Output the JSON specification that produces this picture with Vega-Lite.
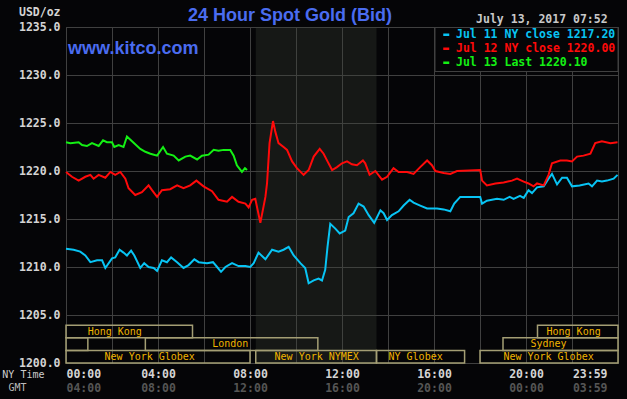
{
  "$schema": "https://vega.github.io/schema/vega-lite/v6.json",
  "width": 552,
  "height": 336,
  "autosize": "none",
  "padding": {"left": 66, "top": 27, "right": 9, "bottom": 36},
  "background": "#050507",
  "config": {
    "view": {"stroke": "#404040"},
    "axis": {"domain": false, "ticks": false, "gridColor": "#404040", "gridOpacity": 1, "gridWidth": 1, "labelFont": "DejaVu Sans Mono", "labelFontWeight": "bold", "labelFontSize": 11.5, "labelOverlap": false, "titleFont": "DejaVu Sans Mono"}
  },
  "title": {"text": "24 Hour Spot Gold (Bid)", "anchor": "start", "frame": "group", "dx": 122, "dy": 39, "font": "Liberation Sans", "fontSize": 18, "fontWeight": "bold", "color": "#4a6cf0", "offset": 6, "baseline": "alphabetic"},
  "datasets": {
    "pit": [{"session": "NYMEX pit", "start": 8.25, "end": 13.5}],
    "sessions": [
      {"name": "Hong Kong", "label": "Hong Kong", "lane": 2, "start": 0, "end": 5.5, "label_hour": 2.12},
      {"name": "Hong Kong", "label": "Hong Kong", "lane": 2, "start": 20.5, "end": 24, "label_hour": 22.07},
      {"name": "Sydney", "label": "", "lane": 1, "start": 0, "end": 0.95, "label_hour": 0.5},
      {"name": "London", "label": "London", "lane": 1, "start": 3.45, "end": 10.95, "label_hour": 7.14},
      {"name": "Sydney", "label": "Sydney", "lane": 1, "start": 19, "end": 24, "label_hour": 20.98},
      {"name": "New York Globex", "label": "New York Globex", "lane": 0, "start": 0, "end": 8, "label_hour": 3.64},
      {"name": "New York NYMEX", "label": "New York NYMEX", "lane": 0, "start": 8.25, "end": 13.5, "label_hour": 10.9},
      {"name": "NY Globex", "label": "NY Globex", "lane": 0, "start": 13.5, "end": 17.33, "label_hour": 15.2},
      {"name": "New York Globex", "label": "New York Globex", "lane": 0, "start": 18, "end": 24, "label_hour": 20.98}
    ],
    "prices": [
      {"series": "Jul 11 NY close 1217.20", "hour": 0, "price": 1211.9},
      {"series": "Jul 11 NY close 1217.20", "hour": 0.33, "price": 1211.8},
      {"series": "Jul 11 NY close 1217.20", "hour": 0.62, "price": 1211.6},
      {"series": "Jul 11 NY close 1217.20", "hour": 0.84, "price": 1211.2},
      {"series": "Jul 11 NY close 1217.20", "hour": 1.06, "price": 1210.5},
      {"series": "Jul 11 NY close 1217.20", "hour": 1.35, "price": 1210.7},
      {"series": "Jul 11 NY close 1217.20", "hour": 1.57, "price": 1210.7},
      {"series": "Jul 11 NY close 1217.20", "hour": 1.71, "price": 1209.9},
      {"series": "Jul 11 NY close 1217.20", "hour": 2.0, "price": 1210.9},
      {"series": "Jul 11 NY close 1217.20", "hour": 2.14, "price": 1211.0},
      {"series": "Jul 11 NY close 1217.20", "hour": 2.33, "price": 1211.8},
      {"series": "Jul 11 NY close 1217.20", "hour": 2.5, "price": 1211.5},
      {"series": "Jul 11 NY close 1217.20", "hour": 2.65, "price": 1211.2},
      {"series": "Jul 11 NY close 1217.20", "hour": 2.83, "price": 1211.7},
      {"series": "Jul 11 NY close 1217.20", "hour": 2.97, "price": 1211.2},
      {"series": "Jul 11 NY close 1217.20", "hour": 3.23, "price": 1209.9},
      {"series": "Jul 11 NY close 1217.20", "hour": 3.4, "price": 1210.4},
      {"series": "Jul 11 NY close 1217.20", "hour": 3.59, "price": 1210.0},
      {"series": "Jul 11 NY close 1217.20", "hour": 3.81, "price": 1209.9},
      {"series": "Jul 11 NY close 1217.20", "hour": 3.96, "price": 1209.6},
      {"series": "Jul 11 NY close 1217.20", "hour": 4.17, "price": 1210.7},
      {"series": "Jul 11 NY close 1217.20", "hour": 4.39, "price": 1210.5},
      {"series": "Jul 11 NY close 1217.20", "hour": 4.57, "price": 1211.0},
      {"series": "Jul 11 NY close 1217.20", "hour": 4.83, "price": 1210.5},
      {"series": "Jul 11 NY close 1217.20", "hour": 5.11, "price": 1209.9},
      {"series": "Jul 11 NY close 1217.20", "hour": 5.33, "price": 1210.2},
      {"series": "Jul 11 NY close 1217.20", "hour": 5.58, "price": 1210.8},
      {"series": "Jul 11 NY close 1217.20", "hour": 5.77, "price": 1210.5},
      {"series": "Jul 11 NY close 1217.20", "hour": 6.13, "price": 1210.4},
      {"series": "Jul 11 NY close 1217.20", "hour": 6.39, "price": 1210.5},
      {"series": "Jul 11 NY close 1217.20", "hour": 6.57, "price": 1210.0},
      {"series": "Jul 11 NY close 1217.20", "hour": 6.74, "price": 1209.5},
      {"series": "Jul 11 NY close 1217.20", "hour": 6.93, "price": 1210.0},
      {"series": "Jul 11 NY close 1217.20", "hour": 7.22, "price": 1210.4},
      {"series": "Jul 11 NY close 1217.20", "hour": 7.5, "price": 1210.1},
      {"series": "Jul 11 NY close 1217.20", "hour": 7.8, "price": 1210.1},
      {"series": "Jul 11 NY close 1217.20", "hour": 8.01, "price": 1210.0},
      {"series": "Jul 11 NY close 1217.20", "hour": 8.16, "price": 1210.4},
      {"series": "Jul 11 NY close 1217.20", "hour": 8.37, "price": 1211.5},
      {"series": "Jul 11 NY close 1217.20", "hour": 8.67, "price": 1210.8},
      {"series": "Jul 11 NY close 1217.20", "hour": 8.96, "price": 1211.8},
      {"series": "Jul 11 NY close 1217.20", "hour": 9.24, "price": 1211.6},
      {"series": "Jul 11 NY close 1217.20", "hour": 9.46, "price": 1211.8},
      {"series": "Jul 11 NY close 1217.20", "hour": 9.68, "price": 1212.1},
      {"series": "Jul 11 NY close 1217.20", "hour": 9.9, "price": 1211.2},
      {"series": "Jul 11 NY close 1217.20", "hour": 10.19, "price": 1210.4},
      {"series": "Jul 11 NY close 1217.20", "hour": 10.4, "price": 1209.9},
      {"series": "Jul 11 NY close 1217.20", "hour": 10.55, "price": 1208.3},
      {"series": "Jul 11 NY close 1217.20", "hour": 10.77, "price": 1208.6},
      {"series": "Jul 11 NY close 1217.20", "hour": 10.98, "price": 1208.8},
      {"series": "Jul 11 NY close 1217.20", "hour": 11.13, "price": 1208.6},
      {"series": "Jul 11 NY close 1217.20", "hour": 11.27, "price": 1209.7},
      {"series": "Jul 11 NY close 1217.20", "hour": 11.37, "price": 1212.1},
      {"series": "Jul 11 NY close 1217.20", "hour": 11.49, "price": 1214.5},
      {"series": "Jul 11 NY close 1217.20", "hour": 11.71, "price": 1214.0},
      {"series": "Jul 11 NY close 1217.20", "hour": 11.9, "price": 1213.5},
      {"series": "Jul 11 NY close 1217.20", "hour": 12.14, "price": 1213.8},
      {"series": "Jul 11 NY close 1217.20", "hour": 12.29, "price": 1215.2},
      {"series": "Jul 11 NY close 1217.20", "hour": 12.5, "price": 1215.6},
      {"series": "Jul 11 NY close 1217.20", "hour": 12.72, "price": 1216.6},
      {"series": "Jul 11 NY close 1217.20", "hour": 12.94, "price": 1216.3},
      {"series": "Jul 11 NY close 1217.20", "hour": 13.16, "price": 1215.4},
      {"series": "Jul 11 NY close 1217.20", "hour": 13.4, "price": 1214.6},
      {"series": "Jul 11 NY close 1217.20", "hour": 13.67, "price": 1215.9},
      {"series": "Jul 11 NY close 1217.20", "hour": 13.81, "price": 1215.6},
      {"series": "Jul 11 NY close 1217.20", "hour": 13.96, "price": 1214.9},
      {"series": "Jul 11 NY close 1217.20", "hour": 14.17, "price": 1215.4},
      {"series": "Jul 11 NY close 1217.20", "hour": 14.46, "price": 1215.8},
      {"series": "Jul 11 NY close 1217.20", "hour": 14.68, "price": 1216.4},
      {"series": "Jul 11 NY close 1217.20", "hour": 14.94, "price": 1217.0},
      {"series": "Jul 11 NY close 1217.20", "hour": 15.11, "price": 1216.7},
      {"series": "Jul 11 NY close 1217.20", "hour": 15.4, "price": 1216.4},
      {"series": "Jul 11 NY close 1217.20", "hour": 15.7, "price": 1216.1},
      {"series": "Jul 11 NY close 1217.20", "hour": 16.13, "price": 1216.1},
      {"series": "Jul 11 NY close 1217.20", "hour": 16.42, "price": 1216.0},
      {"series": "Jul 11 NY close 1217.20", "hour": 16.71, "price": 1215.8},
      {"series": "Jul 11 NY close 1217.20", "hour": 16.88, "price": 1216.6},
      {"series": "Jul 11 NY close 1217.20", "hour": 17.14, "price": 1217.3},
      {"series": "Jul 11 NY close 1217.20", "hour": 18.01, "price": 1217.3},
      {"series": "Jul 11 NY close 1217.20", "hour": 18.09, "price": 1216.6},
      {"series": "Jul 11 NY close 1217.20", "hour": 18.3, "price": 1216.9},
      {"series": "Jul 11 NY close 1217.20", "hour": 18.74, "price": 1217.1},
      {"series": "Jul 11 NY close 1217.20", "hour": 19.03, "price": 1217.0},
      {"series": "Jul 11 NY close 1217.20", "hour": 19.29, "price": 1217.3},
      {"series": "Jul 11 NY close 1217.20", "hour": 19.46, "price": 1217.1},
      {"series": "Jul 11 NY close 1217.20", "hour": 19.74, "price": 1217.4},
      {"series": "Jul 11 NY close 1217.20", "hour": 19.9, "price": 1217.2},
      {"series": "Jul 11 NY close 1217.20", "hour": 20.11, "price": 1218.0},
      {"series": "Jul 11 NY close 1217.20", "hour": 20.26, "price": 1217.7},
      {"series": "Jul 11 NY close 1217.20", "hour": 20.48, "price": 1218.3},
      {"series": "Jul 11 NY close 1217.20", "hour": 20.77, "price": 1218.4},
      {"series": "Jul 11 NY close 1217.20", "hour": 20.98, "price": 1219.2},
      {"series": "Jul 11 NY close 1217.20", "hour": 21.13, "price": 1219.7},
      {"series": "Jul 11 NY close 1217.20", "hour": 21.35, "price": 1218.6},
      {"series": "Jul 11 NY close 1217.20", "hour": 21.57, "price": 1219.3},
      {"series": "Jul 11 NY close 1217.20", "hour": 21.78, "price": 1219.3},
      {"series": "Jul 11 NY close 1217.20", "hour": 22.0, "price": 1218.4},
      {"series": "Jul 11 NY close 1217.20", "hour": 22.33, "price": 1218.5},
      {"series": "Jul 11 NY close 1217.20", "hour": 22.72, "price": 1218.7},
      {"series": "Jul 11 NY close 1217.20", "hour": 22.87, "price": 1218.4},
      {"series": "Jul 11 NY close 1217.20", "hour": 23.09, "price": 1219.0},
      {"series": "Jul 11 NY close 1217.20", "hour": 23.3, "price": 1218.9},
      {"series": "Jul 11 NY close 1217.20", "hour": 23.52, "price": 1219.0},
      {"series": "Jul 11 NY close 1217.20", "hour": 23.81, "price": 1219.2},
      {"series": "Jul 11 NY close 1217.20", "hour": 23.98, "price": 1219.6},
      {"series": "Jul 12 NY close 1220.00", "hour": 0, "price": 1219.9},
      {"series": "Jul 12 NY close 1220.00", "hour": 0.26, "price": 1219.4},
      {"series": "Jul 12 NY close 1220.00", "hour": 0.55, "price": 1219.0},
      {"series": "Jul 12 NY close 1220.00", "hour": 0.84, "price": 1219.4},
      {"series": "Jul 12 NY close 1220.00", "hour": 1.06, "price": 1219.6},
      {"series": "Jul 12 NY close 1220.00", "hour": 1.2, "price": 1219.2},
      {"series": "Jul 12 NY close 1220.00", "hour": 1.42, "price": 1219.6},
      {"series": "Jul 12 NY close 1220.00", "hour": 1.71, "price": 1219.3},
      {"series": "Jul 12 NY close 1220.00", "hour": 1.93, "price": 1219.9},
      {"series": "Jul 12 NY close 1220.00", "hour": 2.14, "price": 1219.6},
      {"series": "Jul 12 NY close 1220.00", "hour": 2.36, "price": 1219.9},
      {"series": "Jul 12 NY close 1220.00", "hour": 2.58, "price": 1219.2},
      {"series": "Jul 12 NY close 1220.00", "hour": 2.72, "price": 1218.2},
      {"series": "Jul 12 NY close 1220.00", "hour": 3.01, "price": 1217.5},
      {"series": "Jul 12 NY close 1220.00", "hour": 3.3, "price": 1217.8},
      {"series": "Jul 12 NY close 1220.00", "hour": 3.59, "price": 1218.5},
      {"series": "Jul 12 NY close 1220.00", "hour": 3.74, "price": 1218.0},
      {"series": "Jul 12 NY close 1220.00", "hour": 3.96, "price": 1217.3},
      {"series": "Jul 12 NY close 1220.00", "hour": 4.17, "price": 1218.0},
      {"series": "Jul 12 NY close 1220.00", "hour": 4.53, "price": 1218.1},
      {"series": "Jul 12 NY close 1220.00", "hour": 4.83, "price": 1218.5},
      {"series": "Jul 12 NY close 1220.00", "hour": 5.11, "price": 1218.2},
      {"series": "Jul 12 NY close 1220.00", "hour": 5.4, "price": 1218.5},
      {"series": "Jul 12 NY close 1220.00", "hour": 5.67, "price": 1219.0},
      {"series": "Jul 12 NY close 1220.00", "hour": 5.98, "price": 1218.4},
      {"series": "Jul 12 NY close 1220.00", "hour": 6.35, "price": 1217.9},
      {"series": "Jul 12 NY close 1220.00", "hour": 6.63, "price": 1217.0},
      {"series": "Jul 12 NY close 1220.00", "hour": 7.0, "price": 1216.8},
      {"series": "Jul 12 NY close 1220.00", "hour": 7.22, "price": 1217.3},
      {"series": "Jul 12 NY close 1220.00", "hour": 7.5, "price": 1216.8},
      {"series": "Jul 12 NY close 1220.00", "hour": 7.8, "price": 1216.6},
      {"series": "Jul 12 NY close 1220.00", "hour": 7.94, "price": 1216.2},
      {"series": "Jul 12 NY close 1220.00", "hour": 8.09, "price": 1217.0},
      {"series": "Jul 12 NY close 1220.00", "hour": 8.23, "price": 1217.1},
      {"series": "Jul 12 NY close 1220.00", "hour": 8.45, "price": 1214.6},
      {"series": "Jul 12 NY close 1220.00", "hour": 8.67, "price": 1217.3},
      {"series": "Jul 12 NY close 1220.00", "hour": 8.74, "price": 1218.7},
      {"series": "Jul 12 NY close 1220.00", "hour": 8.85, "price": 1222.9},
      {"series": "Jul 12 NY close 1220.00", "hour": 9.0, "price": 1225.2},
      {"series": "Jul 12 NY close 1220.00", "hour": 9.1, "price": 1224.1},
      {"series": "Jul 12 NY close 1220.00", "hour": 9.24, "price": 1222.9},
      {"series": "Jul 12 NY close 1220.00", "hour": 9.46, "price": 1222.5},
      {"series": "Jul 12 NY close 1220.00", "hour": 9.61, "price": 1222.2},
      {"series": "Jul 12 NY close 1220.00", "hour": 9.83, "price": 1221.0},
      {"series": "Jul 12 NY close 1220.00", "hour": 10.04, "price": 1220.3},
      {"series": "Jul 12 NY close 1220.00", "hour": 10.33, "price": 1219.6},
      {"series": "Jul 12 NY close 1220.00", "hour": 10.55, "price": 1220.1},
      {"series": "Jul 12 NY close 1220.00", "hour": 10.77, "price": 1221.5},
      {"series": "Jul 12 NY close 1220.00", "hour": 11.03, "price": 1222.3},
      {"series": "Jul 12 NY close 1220.00", "hour": 11.2, "price": 1221.8},
      {"series": "Jul 12 NY close 1220.00", "hour": 11.37, "price": 1221.0},
      {"series": "Jul 12 NY close 1220.00", "hour": 11.57, "price": 1220.1},
      {"series": "Jul 12 NY close 1220.00", "hour": 11.78, "price": 1220.4},
      {"series": "Jul 12 NY close 1220.00", "hour": 12.0, "price": 1220.8},
      {"series": "Jul 12 NY close 1220.00", "hour": 12.22, "price": 1221.0},
      {"series": "Jul 12 NY close 1220.00", "hour": 12.43, "price": 1220.7},
      {"series": "Jul 12 NY close 1220.00", "hour": 12.65, "price": 1220.6},
      {"series": "Jul 12 NY close 1220.00", "hour": 12.91, "price": 1221.1},
      {"series": "Jul 12 NY close 1220.00", "hour": 13.01, "price": 1220.8},
      {"series": "Jul 12 NY close 1220.00", "hour": 13.2, "price": 1219.6},
      {"series": "Jul 12 NY close 1220.00", "hour": 13.45, "price": 1220.0},
      {"series": "Jul 12 NY close 1220.00", "hour": 13.74, "price": 1219.1},
      {"series": "Jul 12 NY close 1220.00", "hour": 13.96, "price": 1219.4},
      {"series": "Jul 12 NY close 1220.00", "hour": 14.24, "price": 1220.3},
      {"series": "Jul 12 NY close 1220.00", "hour": 14.46, "price": 1219.9},
      {"series": "Jul 12 NY close 1220.00", "hour": 14.83, "price": 1219.9},
      {"series": "Jul 12 NY close 1220.00", "hour": 15.11, "price": 1219.7},
      {"series": "Jul 12 NY close 1220.00", "hour": 15.4, "price": 1220.4},
      {"series": "Jul 12 NY close 1220.00", "hour": 15.7, "price": 1221.1},
      {"series": "Jul 12 NY close 1220.00", "hour": 15.91, "price": 1220.6},
      {"series": "Jul 12 NY close 1220.00", "hour": 16.06, "price": 1220.0},
      {"series": "Jul 12 NY close 1220.00", "hour": 16.42, "price": 1219.8},
      {"series": "Jul 12 NY close 1220.00", "hour": 16.71, "price": 1219.7},
      {"series": "Jul 12 NY close 1220.00", "hour": 17.0, "price": 1220.0},
      {"series": "Jul 12 NY close 1220.00", "hour": 18.01, "price": 1220.1},
      {"series": "Jul 12 NY close 1220.00", "hour": 18.09, "price": 1219.0},
      {"series": "Jul 12 NY close 1220.00", "hour": 18.3, "price": 1218.5},
      {"series": "Jul 12 NY close 1220.00", "hour": 18.67, "price": 1218.7},
      {"series": "Jul 12 NY close 1220.00", "hour": 19.03, "price": 1218.8},
      {"series": "Jul 12 NY close 1220.00", "hour": 19.39, "price": 1219.0},
      {"series": "Jul 12 NY close 1220.00", "hour": 19.61, "price": 1219.2},
      {"series": "Jul 12 NY close 1220.00", "hour": 19.9, "price": 1218.9},
      {"series": "Jul 12 NY close 1220.00", "hour": 20.11, "price": 1218.7},
      {"series": "Jul 12 NY close 1220.00", "hour": 20.33, "price": 1218.4},
      {"series": "Jul 12 NY close 1220.00", "hour": 20.48, "price": 1218.7},
      {"series": "Jul 12 NY close 1220.00", "hour": 20.77, "price": 1218.5},
      {"series": "Jul 12 NY close 1220.00", "hour": 20.98, "price": 1219.6},
      {"series": "Jul 12 NY close 1220.00", "hour": 21.13, "price": 1220.8},
      {"series": "Jul 12 NY close 1220.00", "hour": 21.49, "price": 1221.1},
      {"series": "Jul 12 NY close 1220.00", "hour": 21.78, "price": 1221.1},
      {"series": "Jul 12 NY close 1220.00", "hour": 22.0, "price": 1221.0},
      {"series": "Jul 12 NY close 1220.00", "hour": 22.22, "price": 1221.5},
      {"series": "Jul 12 NY close 1220.00", "hour": 22.5, "price": 1221.6},
      {"series": "Jul 12 NY close 1220.00", "hour": 22.8, "price": 1221.8},
      {"series": "Jul 12 NY close 1220.00", "hour": 23.01, "price": 1222.9},
      {"series": "Jul 12 NY close 1220.00", "hour": 23.3, "price": 1223.1},
      {"series": "Jul 12 NY close 1220.00", "hour": 23.67, "price": 1222.9},
      {"series": "Jul 12 NY close 1220.00", "hour": 23.98, "price": 1223.0},
      {"series": "Jul 13 Last 1220.10", "hour": 0, "price": 1223.0},
      {"series": "Jul 13 Last 1220.10", "hour": 0.19, "price": 1222.9},
      {"series": "Jul 13 Last 1220.10", "hour": 0.55, "price": 1223.0},
      {"series": "Jul 13 Last 1220.10", "hour": 0.7, "price": 1222.7},
      {"series": "Jul 13 Last 1220.10", "hour": 0.91, "price": 1222.6},
      {"series": "Jul 13 Last 1220.10", "hour": 1.13, "price": 1222.9},
      {"series": "Jul 13 Last 1220.10", "hour": 1.42, "price": 1222.6},
      {"series": "Jul 13 Last 1220.10", "hour": 1.61, "price": 1223.2},
      {"series": "Jul 13 Last 1220.10", "hour": 1.78, "price": 1223.0},
      {"series": "Jul 13 Last 1220.10", "hour": 2.0, "price": 1223.0},
      {"series": "Jul 13 Last 1220.10", "hour": 2.1, "price": 1222.5},
      {"series": "Jul 13 Last 1220.10", "hour": 2.29, "price": 1222.7},
      {"series": "Jul 13 Last 1220.10", "hour": 2.5, "price": 1222.5},
      {"series": "Jul 13 Last 1220.10", "hour": 2.65, "price": 1223.6},
      {"series": "Jul 13 Last 1220.10", "hour": 2.87, "price": 1223.1},
      {"series": "Jul 13 Last 1220.10", "hour": 3.23, "price": 1222.3},
      {"series": "Jul 13 Last 1220.10", "hour": 3.45, "price": 1222.0},
      {"series": "Jul 13 Last 1220.10", "hour": 3.67, "price": 1221.8},
      {"series": "Jul 13 Last 1220.10", "hour": 3.96, "price": 1221.6},
      {"series": "Jul 13 Last 1220.10", "hour": 4.22, "price": 1222.5},
      {"series": "Jul 13 Last 1220.10", "hour": 4.39, "price": 1221.8},
      {"series": "Jul 13 Last 1220.10", "hour": 4.68, "price": 1221.6},
      {"series": "Jul 13 Last 1220.10", "hour": 4.9, "price": 1221.1},
      {"series": "Jul 13 Last 1220.10", "hour": 5.19, "price": 1221.5},
      {"series": "Jul 13 Last 1220.10", "hour": 5.4, "price": 1221.6},
      {"series": "Jul 13 Last 1220.10", "hour": 5.7, "price": 1221.2},
      {"series": "Jul 13 Last 1220.10", "hour": 5.91, "price": 1221.6},
      {"series": "Jul 13 Last 1220.10", "hour": 6.2, "price": 1221.7},
      {"series": "Jul 13 Last 1220.10", "hour": 6.42, "price": 1222.2},
      {"series": "Jul 13 Last 1220.10", "hour": 6.63, "price": 1222.1},
      {"series": "Jul 13 Last 1220.10", "hour": 6.85, "price": 1222.2},
      {"series": "Jul 13 Last 1220.10", "hour": 7.14, "price": 1222.2},
      {"series": "Jul 13 Last 1220.10", "hour": 7.29, "price": 1221.6},
      {"series": "Jul 13 Last 1220.10", "hour": 7.43, "price": 1220.6},
      {"series": "Jul 13 Last 1220.10", "hour": 7.65, "price": 1219.9},
      {"series": "Jul 13 Last 1220.10", "hour": 7.78, "price": 1220.3},
      {"series": "Jul 13 Last 1220.10", "hour": 7.87, "price": 1220.1}
    ]
  },
  "layer": [
    {
      "layer": [
        {
          "data": {"name": "pit"},
          "mark": {"type": "rect", "color": "#3e443b", "opacity": 0.3},
          "encoding": {
            "x": {"field": "start", "type": "quantitative", "scale": {"domain": [0, 24], "nice": false, "zero": false}},
            "x2": {"field": "end"}
          }
        },
        {
          "data": {"name": "prices"},
          "mark": {"type": "line", "strokeWidth": 2},
          "encoding": {
            "x": {
              "field": "hour", "type": "quantitative",
              "scale": {"domain": [0, 24], "nice": false, "zero": false},
              "axis": {
                "orient": "bottom",
                "values": [0, 2, 4, 6, 8, 10, 12, 14, 16, 18, 20, 22, 24],
                "labelExpr": "datum.value == 24 ? '23:59' : (datum.value % 4 == 0 ? (datum.value < 10 ? '0' : '') + datum.value + ':00' : '')",
                "labelOffset": {"condition": {"test": "datum.value == 24", "value": -11}, "value": 0},
                "labelColor": "#d4d4d4", "labelPadding": 5, "grid": true,
                "title": "NY Time", "titleX": -22, "titleY": 11, "titleAlign": "right", "titleBaseline": "middle",
                "titleColor": "#cccccc", "titleFontWeight": "normal", "titleFontSize": 10
              }
            },
            "y": {
              "field": "price", "type": "quantitative",
              "scale": {"domain": [1200, 1235], "nice": false, "zero": false},
              "axis": {
                "values": [1200, 1205, 1210, 1215, 1220, 1225, 1230, 1235],
                "format": ".1f", "labelColor": "#d4d4d4", "labelPadding": 6, "grid": true,
                "title": "USD/oz", "titleAngle": 0, "titleAlign": "right", "titleX": -6, "titleY": -15,
                "titleBaseline": "middle", "titleColor": "#d4d4d4", "titleFontWeight": "bold", "titleFontSize": 11.5
              }
            },
            "color": {
              "field": "series", "type": "nominal",
              "scale": {"domain": ["Jul 11 NY close 1217.20", "Jul 12 NY close 1220.00", "Jul 13 Last 1220.10"], "range": ["#08c4f4", "#ff0a0a", "#14f014"]},
              "legend": {
                "orient": "none", "legendX": 368.5, "legendY": 0, "title": null,
                "fillColor": "#050507", "strokeColor": "#404040", "padding": 2,
                "symbolType": "stroke", "symbolSize": 36, "symbolStrokeWidth": 2.5, "symbolOffset": 4,
                "labelFont": "DejaVu Sans Mono", "labelFontWeight": "bold", "labelFontSize": 11.5, "labelOffset": 4,
                "rowPadding": 1, "labelLimit": 300,
                "encode": {"labels": {"update": {"fill": {"scale": "color", "field": "value"}}}}
              }
            }
          }
        },
        {
          "data": {"values": [{}]},
          "mark": {"type": "text", "text": "www.kitco.com", "align": "left", "baseline": "alphabetic", "font": "Liberation Sans", "fontWeight": "bold", "fontSize": 18, "color": "#4a6cf0"},
          "encoding": {"x": {"datum": 0.09}, "y": {"datum": 1232.15}}
        },
        {
          "data": {"values": [{}]},
          "mark": {"type": "text", "text": "July 13, 2017 07:52", "align": "right", "baseline": "middle", "font": "DejaVu Sans Mono", "fontWeight": "bold", "fontSize": 11.5, "color": "#c8c8c8"},
          "encoding": {"x": {"datum": 23.55}, "y": {"datum": 1235.75}}
        }
      ]
    },
    {
      "data": {"name": "sessions"},
      "layer": [
        {
          "mark": {"type": "rect", "height": 12.6, "fill": null, "stroke": "#a49e74", "strokeWidth": 1.5},
          "encoding": {
            "x": {
              "field": "start", "type": "quantitative",
              "axis": {
                "orient": "bottom",
                "values": [0, 4, 8, 12, 16, 20, 24], "grid": false,
                "labelExpr": "datum.value == 24 ? '03:59' : (((datum.value + 4) % 24) < 10 ? '0' : '') + ((datum.value + 4) % 24) + ':00'",
                "labelOffset": {"condition": {"test": "datum.value == 24", "value": -11}, "value": 0},
                "labelColor": "#555555", "labelPadding": 19,
                "title": "GMT", "titleX": -40, "titleY": 24, "titleAlign": "right", "titleBaseline": "middle",
                "titleColor": "#bbbbbb", "titleFontWeight": "normal", "titleFontSize": 10
              }
            },
            "x2": {"field": "end"},
            "y": {"field": "lane", "type": "quantitative", "scale": {"domain": [-0.5, 26.17], "nice": false, "zero": false}, "axis": null}
          }
        },
        {
          "mark": {"type": "text", "font": "DejaVu Sans Mono", "fontSize": 10, "color": "#f0b400", "baseline": "middle", "align": "center"},
          "encoding": {
            "x": {
              "field": "label_hour", "type": "quantitative",
              "axis": {
                "orient": "bottom",
                "values": [0, 4, 8, 12, 16, 20, 24], "grid": false,
                "labelExpr": "datum.value == 24 ? '03:59' : (((datum.value + 4) % 24) < 10 ? '0' : '') + ((datum.value + 4) % 24) + ':00'",
                "labelOffset": {"condition": {"test": "datum.value == 24", "value": -11}, "value": 0},
                "labelColor": "#555555", "labelPadding": 19,
                "title": "GMT", "titleX": -40, "titleY": 24, "titleAlign": "right", "titleBaseline": "middle",
                "titleColor": "#bbbbbb", "titleFontWeight": "normal", "titleFontSize": 10
              }
            },
            "y": {"field": "lane", "type": "quantitative", "scale": {"domain": [-0.5, 26.17], "nice": false, "zero": false}, "axis": null},
            "text": {"field": "label"}
          }
        }
      ]
    }
  ],
  "resolve": {"scale": {"y": "independent"}, "axis": {"x": "independent"}}
}
